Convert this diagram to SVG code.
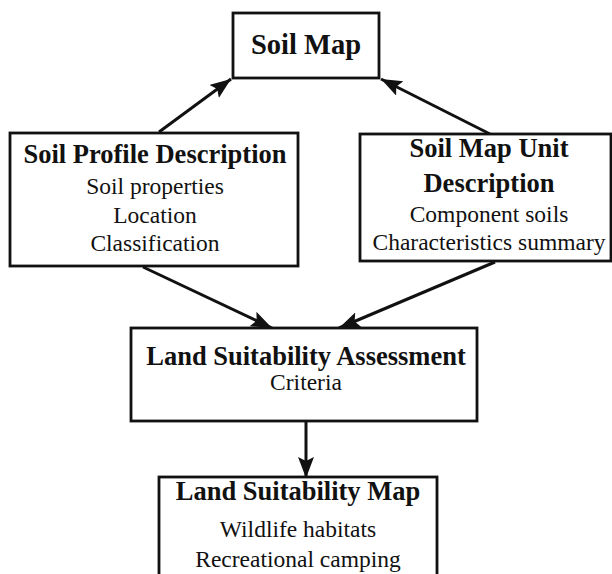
<svg xmlns="http://www.w3.org/2000/svg" width="612" height="574" viewBox="0 0 612 574">
<style>
.box{fill:#fff;stroke:#111;stroke-width:2.8}
.t{font-family:"Liberation Serif","Times New Roman",serif;font-weight:bold;font-size:26.5px;fill:#111;text-anchor:middle}
.r{font-family:"Liberation Serif","Times New Roman",serif;font-size:23.5px;fill:#111;text-anchor:middle}
.c{stroke:#111;stroke-width:3;fill:none}
</style>
<defs>
<marker id="ah" markerUnits="userSpaceOnUse" markerWidth="24" markerHeight="18" refX="21" refY="8" orient="auto">
<path d="M0,0 L21,8 L0,16 L4,8 Z" fill="#111"/>
</marker>
</defs>
<rect width="612" height="574" fill="#fff"/>
<g id="connectors">
<line class="c" x1="159" y1="132" x2="231" y2="79" marker-end="url(#ah)"/>
<line class="c" x1="490" y1="134" x2="381" y2="79" marker-end="url(#ah)"/>
<line class="c" x1="143" y1="267" x2="272" y2="328" marker-end="url(#ah)"/>
<line class="c" x1="495" y1="262" x2="339" y2="328" marker-end="url(#ah)"/>
<line class="c" x1="306" y1="421" x2="306" y2="478" stroke-width="4" marker-end="url(#ah)"/>
</g>
<g id="soil-map">
<rect class="box" x="233" y="13" width="146" height="65"/>
<text class="t" x="306" y="54" style="font-size:28.5px">Soil Map</text>
</g>
<g id="soil-profile">
<rect class="box" x="10" y="133" width="288" height="133"/>
<text class="t" x="155" y="163">Soil Profile Description</text>
<text class="r" x="155" y="194">Soil properties</text>
<text class="r" x="155" y="223">Location</text>
<text class="r" x="155" y="251">Classification</text>
</g>
<g id="soil-map-unit">
<rect class="box" x="360" y="134" width="251" height="127"/>
<text class="t" x="489" y="157">Soil Map Unit</text>
<text class="t" x="489" y="192">Description</text>
<text class="r" x="489" y="222">Component soils</text>
<text class="r" x="489" y="250">Characteristics summary</text>
</g>
<g id="assessment">
<rect class="box" x="131" y="328" width="346" height="93"/>
<text class="t" x="306" y="365">Land Suitability Assessment</text>
<text class="r" x="306" y="390">Criteria</text>
</g>
<g id="suitability-map">
<rect class="box" x="159" y="477" width="278" height="120"/>
<text class="t" x="298" y="500">Land Suitability Map</text>
<text class="r" x="298" y="537">Wildlife habitats</text>
<text class="r" x="298" y="567">Recreational camping</text>
</g>
</svg>
